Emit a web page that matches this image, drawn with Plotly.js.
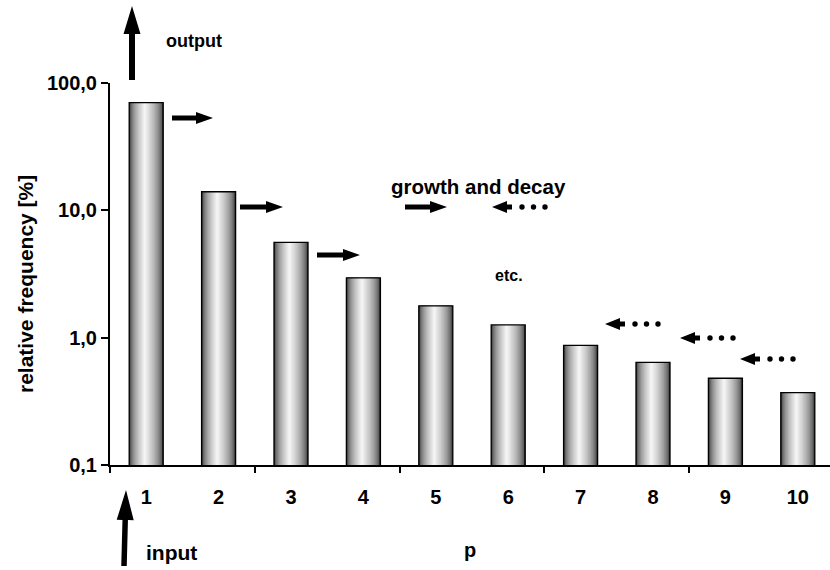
<!DOCTYPE html>
<html>
<head>
<meta charset="utf-8">
<script src="https://cdn.plot.ly/plotly-3.0.1.min.js"></script>
<style>
  html, body { margin: 0; padding: 0; background: #fff; }
  #chart { width: 830px; height: 570px; }
</style>
</head>
<body>
<div id="chart"></div>
<script>
// ---- data ----
const pValues = [1, 2, 3, 4, 5, 6, 7, 8, 9, 10];
const pLabels = ['1', '2', '3', '4', '5', '6', '7', '8', '9', '10'];
const relFrequency = [70, 14, 5.6, 2.95, 1.78, 1.26, 0.87, 0.64, 0.48, 0.37];
const yTickVals = [0.1, 1, 10, 100];
const yTickText = ['0,1', '1,0', '10,0', '100,0'];
const xMajorTicks = [0.5, 2.5, 4.5, 6.5, 8.5];

// ---- geometry ----
const W = 830, H = 570;
const M = { l: 110, r: 0, t: 83, b: 105 };
const plotW = W - M.l - M.r, plotH = H - M.t - M.b;
const catStep = 72.4;                       // pixels per category
const xRange = [0.5, 0.5 + plotW / catStep];

const FONT = 'Liberation Sans, Arial, sans-serif';
const BAR_W = 0.47;

// Cylinder-like shading: concentric overlaid bars, dark at the rim, light near the middle.
const LAYERS = 16;
const leftSpan = 0.205, rightSpan = 0.245;
const traces = [];
for (let k = 0; k < LAYERS; k++) {
  const t = k / (LAYERS - 1);
  const left = -BAR_W / 2 + t * leftSpan;
  const right = BAR_W / 2 - t * rightSpan;
  const g = Math.round(50 + 195 * Math.pow(t, 0.55));
  traces.push({
    type: 'bar', x: pValues, y: relFrequency,
    width: right - left, offset: left,
    marker: { color: `rgb(${g},${g},${g})`, line: { width: 0 } },
    hoverinfo: 'skip', showlegend: false
  });
}
// outline on top
traces.push({
  type: 'bar', x: pValues, y: relFrequency,
  width: BAR_W, offset: -BAR_W / 2,
  marker: { color: 'rgba(0,0,0,0)', line: { color: '#000', width: 1.3 } },
  hovertemplate: 'p=%{x}: %{y}%<extra></extra>', showlegend: false
});
// carrier for the secondary tick axis
traces.push({ type: 'scatter', x: [], y: [], xaxis: 'x2', hoverinfo: 'skip', showlegend: false });

// ---- decorations (pixel helpers) ----
const px2x = px => (px - M.l) / plotW;
const py2y = py => (H - M.b - py) / plotH;

function arrowPath(x0, y0, x1, y1, shaftW, headW, headL) {
  const dx = x1 - x0, dy = y1 - y0, len = Math.hypot(dx, dy);
  const ux = dx / len, uy = dy / len, nx = -uy, ny = ux;
  const bx = x1 - ux * headL, by = y1 - uy * headL;
  const pts = [
    [x0 + nx * shaftW / 2, y0 + ny * shaftW / 2],
    [bx + nx * shaftW / 2, by + ny * shaftW / 2],
    [bx + nx * headW / 2, by + ny * headW / 2],
    [x1, y1],
    [bx - nx * headW / 2, by - ny * headW / 2],
    [bx - nx * shaftW / 2, by - ny * shaftW / 2],
    [x0 - nx * shaftW / 2, y0 - ny * shaftW / 2]
  ];
  return 'M' + pts.map(p => px2x(p[0]).toFixed(5) + ',' + py2y(p[1]).toFixed(5)).join('L') + 'Z';
}
const shapes = [];
function addArrow(x0, y0, x1, y1, shaftW, headW, headL) {
  shapes.push({
    type: 'path', xref: 'paper', yref: 'paper',
    path: arrowPath(x0, y0, x1, y1, shaftW, headW, headL),
    fillcolor: '#000', line: { width: 0 }
  });
}
function addDot(cx, cy, r) {
  shapes.push({
    type: 'circle', xref: 'paper', yref: 'paper',
    x0: px2x(cx - r), x1: px2x(cx + r), y0: py2y(cy + r), y1: py2y(cy - r),
    fillcolor: '#000', line: { width: 0 }
  });
}

// output / input
addArrow(132, 80, 132, 6, 6, 17, 28);
addArrow(124, 566, 126, 490, 5.5, 17, 30);
// growth
addArrow(172, 118, 213, 118, 5, 12, 17);
addArrow(240, 207, 283, 207, 5, 12, 17);
addArrow(317, 255, 360, 255, 5, 12, 17);
addArrow(405, 207, 447, 207, 5, 12, 17);
// decay
[[492, 207], [605, 324], [680, 338], [740, 359]].forEach(([x, y]) => {
  addArrow(x + 20, y, x, y, 5, 12, 15);
  for (let i = 0; i < 3; i++) addDot(x + 30 + i * 11.5, y, 2.7);
});

function label(text, cx, cy, size, extra) {
  return Object.assign({
    text, xref: 'paper', yref: 'paper', x: px2x(cx), y: py2y(cy),
    xanchor: 'center', yanchor: 'middle', showarrow: false,
    font: { family: FONT, size, weight: 'bold', color: '#000' }
  }, extra || {});
}
const annotations = [
  label('output', 194, 41, 18),
  label('input', 171, 552, 21),
  label('growth and decay', 479, 186, 20.5),
  label('etc.', 509, 275, 16),
  label('relative frequency [%]', 25, 284, 21, { textangle: -90 })
];

const layout = {
  width: W, height: H,
  margin: M,
  paper_bgcolor: '#fff', plot_bgcolor: '#fff',
  barmode: 'overlay',
  font: { family: FONT, weight: 'bold', color: '#000' },
  xaxis: {
    range: xRange, tickvals: pValues, ticktext: pLabels, ticks: '',
    showline: true, linecolor: '#000', linewidth: 2,
    showgrid: false, zeroline: false,
    tickfont: { family: FONT, size: 20, weight: 'bold', color: '#000' },
    ticklabelstandoff: 13,
    title: { text: 'p', standoff: 36, font: { family: FONT, size: 20, weight: 'bold', color: '#000' } }
  },
  xaxis2: {
    overlaying: 'x', anchor: 'y', side: 'bottom', range: xRange,
    tickvals: xMajorTicks, ticks: 'outside', ticklen: 7, tickwidth: 2, tickcolor: '#000',
    showticklabels: false, showline: false, showgrid: false, zeroline: false
  },
  yaxis: {
    type: 'log', range: [-1, 2],
    tickvals: yTickVals, ticktext: yTickText,
    ticks: 'outside', ticklen: 7, tickwidth: 2, tickcolor: '#000',
    showline: true, linecolor: '#000', linewidth: 2,
    showgrid: false, zeroline: false,
    tickfont: { family: FONT, size: 20, weight: 'bold', color: '#000' }
  },
  shapes, annotations
};

Plotly.newPlot('chart', traces, layout, { displayModeBar: false, staticPlot: true });
</script>
</body>
</html>
